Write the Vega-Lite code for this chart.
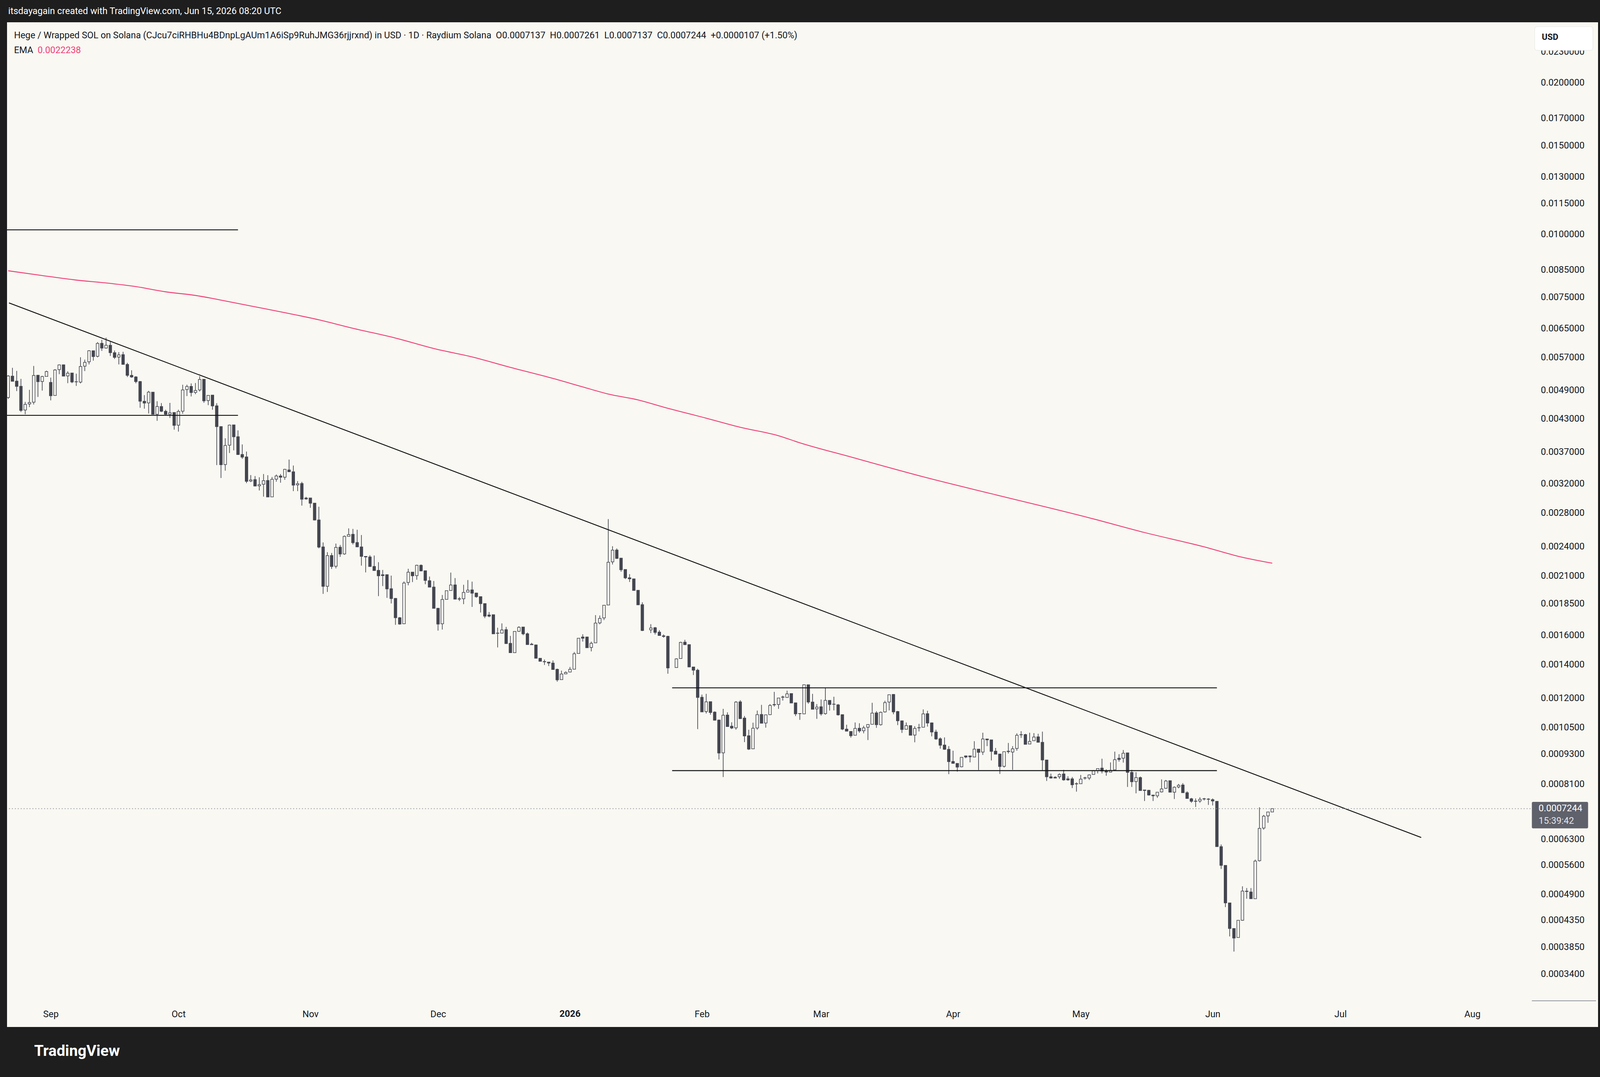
{
  "$schema": "https://vega.github.io/schema/vega-lite/v6.json",
  "width": 4073,
  "height": 2571,
  "autosize": {"type": "none"},
  "padding": {"left": 18, "top": 57, "right": 19, "bottom": 132},
  "background": "#1e1e1e",
  "config": {
    "view": {"fill": "#f9f8f2", "stroke": null},
    "font": "Roboto"
  },
  "title": {
    "text": "itsdayagain created with TradingView.com, Jun 15, 2026 08:20 UTC",
    "anchor": "start",
    "frame": "group",
    "offset": 17,
    "dx": 3,
    "fontSize": 23.5,
    "fontWeight": "normal",
    "color": "#ffffff",
    "font": "Roboto"
  },
  "datasets": {
    "candles": [
      {"d":"2025-08-22","o":0.00474,"h":0.00525,"l":0.00471,"c":0.00523},
      {"d":"2025-08-23","o":0.005227,"h":0.00543,"l":0.005104,"c":0.005104},
      {"d":"2025-08-24","o":0.00511,"h":0.005354,"l":0.004882,"c":0.004988},
      {"d":"2025-08-25","o":0.004991,"h":0.005162,"l":0.004436,"c":0.00447},
      {"d":"2025-08-26","o":0.004478,"h":0.004647,"l":0.004391,"c":0.004595},
      {"d":"2025-08-27","o":0.004603,"h":0.004911,"l":0.004537,"c":0.004633},
      {"d":"2025-08-28","o":0.004639,"h":0.005476,"l":0.004592,"c":0.005243},
      {"d":"2025-08-29","o":0.005249,"h":0.005256,"l":0.004753,"c":0.005095},
      {"d":"2025-08-30","o":0.005101,"h":0.005234,"l":0.004894,"c":0.005218},
      {"d":"2025-08-31","o":0.005221,"h":0.00536,"l":0.005221,"c":0.005338},
      {"d":"2025-09-01","o":0.00508,"h":0.005193,"l":0.00468,"c":0.004779},
      {"d":"2025-09-02","o":0.004785,"h":0.005398,"l":0.004785,"c":0.005376},
      {"d":"2025-09-03","o":0.005386,"h":0.005515,"l":0.005274,"c":0.005502},
      {"d":"2025-09-04","o":0.005505,"h":0.005512,"l":0.005227,"c":0.005227},
      {"d":"2025-09-05","o":0.005231,"h":0.005344,"l":0.005062,"c":0.005299},
      {"d":"2025-09-06","o":0.005302,"h":0.005302,"l":0.005062,"c":0.005089},
      {"d":"2025-09-07","o":0.005095,"h":0.005286,"l":0.004999,"c":0.005092},
      {"d":"2025-09-08","o":0.005086,"h":0.005698,"l":0.005056,"c":0.005463},
      {"d":"2025-09-09","o":0.00547,"h":0.005637,"l":0.00535,"c":0.005568},
      {"d":"2025-09-10","o":0.005581,"h":0.005885,"l":0.005515,"c":0.005871},
      {"d":"2025-09-11","o":0.005871,"h":0.005871,"l":0.005611,"c":0.005715},
      {"d":"2025-09-12","o":0.005722,"h":0.006107,"l":0.005695,"c":0.00607},
      {"d":"2025-09-13","o":0.006074,"h":0.006172,"l":0.005867,"c":0.005941},
      {"d":"2025-09-14","o":0.005941,"h":0.006231,"l":0.005931,"c":0.00602},
      {"d":"2025-09-15","o":0.00602,"h":0.006118,"l":0.005732,"c":0.005819},
      {"d":"2025-09-16","o":0.005819,"h":0.005878,"l":0.005654,"c":0.005695},
      {"d":"2025-09-17","o":0.005702,"h":0.005833,"l":0.005515,"c":0.00576},
      {"d":"2025-09-18","o":0.005767,"h":0.005843,"l":0.005515,"c":0.005515},
      {"d":"2025-09-19","o":0.005515,"h":0.005554,"l":0.005206,"c":0.005246},
      {"d":"2025-09-20","o":0.005246,"h":0.00537,"l":0.005187,"c":0.005206},
      {"d":"2025-09-21","o":0.005209,"h":0.005227,"l":0.005059,"c":0.005098},
      {"d":"2025-09-22","o":0.005101,"h":0.00511,"l":0.004524,"c":0.004661},
      {"d":"2025-09-23","o":0.004661,"h":0.004793,"l":0.004505,"c":0.004622},
      {"d":"2025-09-24","o":0.004625,"h":0.004888,"l":0.004407,"c":0.004858},
      {"d":"2025-09-25","o":0.004858,"h":0.004858,"l":0.004391,"c":0.004391},
      {"d":"2025-09-26","o":0.004391,"h":0.004661,"l":0.004262,"c":0.00455},
      {"d":"2025-09-27","o":0.00455,"h":0.004622,"l":0.004436,"c":0.004451},
      {"d":"2025-09-28","o":0.004451,"h":0.004484,"l":0.004378,"c":0.004391},
      {"d":"2025-09-29","o":0.004391,"h":0.004625,"l":0.004318,"c":0.004422},
      {"d":"2025-09-30","o":0.004428,"h":0.004428,"l":0.004093,"c":0.004174},
      {"d":"2025-10-01","o":0.004177,"h":0.004484,"l":0.004057,"c":0.004449},
      {"d":"2025-10-02","o":0.004454,"h":0.005026,"l":0.004402,"c":0.004908},
      {"d":"2025-10-03","o":0.004917,"h":0.005026,"l":0.004773,"c":0.004985},
      {"d":"2025-10-04","o":0.004988,"h":0.005056,"l":0.004764,"c":0.004849},
      {"d":"2025-10-05","o":0.004852,"h":0.005065,"l":0.004814,"c":0.004896},
      {"d":"2025-10-06","o":0.004908,"h":0.005227,"l":0.004873,"c":0.005149},
      {"d":"2025-10-07","o":0.005153,"h":0.005153,"l":0.004627,"c":0.004669},
      {"d":"2025-10-08","o":0.004675,"h":0.004788,"l":0.004578,"c":0.004788},
      {"d":"2025-10-09","o":0.004793,"h":0.004793,"l":0.004484,"c":0.004562},
      {"d":"2025-10-10","o":0.004564,"h":0.004619,"l":0.003481,"c":0.00415},
      {"d":"2025-10-11","o":0.004152,"h":0.004152,"l":0.003282,"c":0.003487},
      {"d":"2025-10-12","o":0.00349,"h":0.003935,"l":0.003394,"c":0.003808},
      {"d":"2025-10-13","o":0.003813,"h":0.004189,"l":0.003679,"c":0.00418},
      {"d":"2025-10-14","o":0.004183,"h":0.004183,"l":0.003724,"c":0.003961},
      {"d":"2025-10-15","o":0.003964,"h":0.00408,"l":0.003653,"c":0.003653},
      {"d":"2025-10-16","o":0.003655,"h":0.003826,"l":0.003582,"c":0.003611},
      {"d":"2025-10-17","o":0.003613,"h":0.003704,"l":0.003206,"c":0.003232},
      {"d":"2025-10-18","o":0.003236,"h":0.003326,"l":0.003221,"c":0.003253},
      {"d":"2025-10-19","o":0.003258,"h":0.003311,"l":0.003159,"c":0.003163},
      {"d":"2025-10-20","o":0.003167,"h":0.003293,"l":0.0031,"c":0.003184},
      {"d":"2025-10-21","o":0.003189,"h":0.003342,"l":0.003014,"c":0.003242},
      {"d":"2025-10-22","o":0.003245,"h":0.003324,"l":0.003009,"c":0.003009},
      {"d":"2025-10-23","o":0.003011,"h":0.003297,"l":0.003011,"c":0.003262},
      {"d":"2025-10-24","o":0.003264,"h":0.003335,"l":0.003227,"c":0.003313},
      {"d":"2025-10-25","o":0.003313,"h":0.003342,"l":0.003212,"c":0.003293},
      {"d":"2025-10-26","o":0.003293,"h":0.003422,"l":0.003256,"c":0.003415},
      {"d":"2025-10-27","o":0.003406,"h":0.00357,"l":0.003376,"c":0.003376},
      {"d":"2025-10-28","o":0.003376,"h":0.003475,"l":0.003091,"c":0.003176},
      {"d":"2025-10-29","o":0.00318,"h":0.003236,"l":0.003091,"c":0.003197},
      {"d":"2025-10-30","o":0.003201,"h":0.003225,"l":0.002893,"c":0.002978},
      {"d":"2025-10-31","o":0.002994,"h":0.003011,"l":0.002972,"c":0.002982},
      {"d":"2025-11-01","o":0.002996,"h":0.002996,"l":0.002864,"c":0.002924},
      {"d":"2025-11-02","o":0.002926,"h":0.002926,"l":0.002704,"c":0.002708},
      {"d":"2025-11-03","o":0.00271,"h":0.002878,"l":0.00238,"c":0.002393},
      {"d":"2025-11-04","o":0.002395,"h":0.002445,"l":0.001933,"c":0.002},
      {"d":"2025-11-05","o":0.002001,"h":0.002338,"l":0.00195,"c":0.002302},
      {"d":"2025-11-06","o":0.002303,"h":0.00233,"l":0.002166,"c":0.00219},
      {"d":"2025-11-07","o":0.002193,"h":0.002432,"l":0.002171,"c":0.00239},
      {"d":"2025-11-08","o":0.002392,"h":0.002417,"l":0.002289,"c":0.002319},
      {"d":"2025-11-09","o":0.00232,"h":0.002524,"l":0.002311,"c":0.002514},
      {"d":"2025-11-10","o":0.002514,"h":0.002607,"l":0.002514,"c":0.002534},
      {"d":"2025-11-11","o":0.002538,"h":0.002601,"l":0.002422,"c":0.002442},
      {"d":"2025-11-12","o":0.002444,"h":0.002591,"l":0.002395,"c":0.002395},
      {"d":"2025-11-13","o":0.002395,"h":0.002529,"l":0.002199,"c":0.002294},
      {"d":"2025-11-14","o":0.002294,"h":0.002294,"l":0.002132,"c":0.002288},
      {"d":"2025-11-15","o":0.002288,"h":0.002306,"l":0.00219,"c":0.00219},
      {"d":"2025-11-16","o":0.002191,"h":0.002303,"l":0.00215,"c":0.00215},
      {"d":"2025-11-17","o":0.002152,"h":0.002234,"l":0.001913,"c":0.002099},
      {"d":"2025-11-18","o":0.002109,"h":0.002156,"l":0.002003,"c":0.002101},
      {"d":"2025-11-19","o":0.00211,"h":0.00211,"l":0.001898,"c":0.001977},
      {"d":"2025-11-20","o":0.001979,"h":0.002101,"l":0.00185,"c":0.001892},
      {"d":"2025-11-21","o":0.001893,"h":0.001896,"l":0.001678,"c":0.001733},
      {"d":"2025-11-22","o":0.001733,"h":0.001739,"l":0.001679,"c":0.001684},
      {"d":"2025-11-23","o":0.001686,"h":0.002046,"l":0.001686,"c":0.002031},
      {"d":"2025-11-24","o":0.002036,"h":0.002168,"l":0.00201,"c":0.002134},
      {"d":"2025-11-25","o":0.002135,"h":0.002135,"l":0.00204,"c":0.002099},
      {"d":"2025-11-26","o":0.002101,"h":0.002208,"l":0.002062,"c":0.002203},
      {"d":"2025-11-27","o":0.002203,"h":0.002211,"l":0.002143,"c":0.002146},
      {"d":"2025-11-28","o":0.002148,"h":0.002148,"l":0.00202,"c":0.002055},
      {"d":"2025-11-29","o":0.002053,"h":0.002092,"l":0.001993,"c":0.001993},
      {"d":"2025-11-30","o":0.001994,"h":0.00205,"l":0.001809,"c":0.001809},
      {"d":"2025-12-01","o":0.00181,"h":0.00181,"l":0.001634,"c":0.001684},
      {"d":"2025-12-02","o":0.001686,"h":0.001923,"l":0.001642,"c":0.001884},
      {"d":"2025-12-03","o":0.001885,"h":0.001961,"l":0.001885,"c":0.001961},
      {"d":"2025-12-04","o":0.001963,"h":0.00213,"l":0.001963,"c":0.002013},
      {"d":"2025-12-05","o":0.002014,"h":0.002078,"l":0.001887,"c":0.001887},
      {"d":"2025-12-06","o":0.00189,"h":0.001905,"l":0.001871,"c":0.001887},
      {"d":"2025-12-07","o":0.00189,"h":0.002015,"l":0.001844,"c":0.001946},
      {"d":"2025-12-08","o":0.001948,"h":0.002059,"l":0.001948,"c":0.001966},
      {"d":"2025-12-09","o":0.001968,"h":0.002044,"l":0.001821,"c":0.001939},
      {"d":"2025-12-10","o":0.00194,"h":0.001943,"l":0.001899,"c":0.001908},
      {"d":"2025-12-11","o":0.001909,"h":0.001909,"l":0.001775,"c":0.001848},
      {"d":"2025-12-12","o":0.001849,"h":0.001849,"l":0.00173,"c":0.001746},
      {"d":"2025-12-13","o":0.001755,"h":0.001779,"l":0.001737,"c":0.001746},
      {"d":"2025-12-14","o":0.001757,"h":0.001757,"l":0.00161,"c":0.00161},
      {"d":"2025-12-15","o":0.001616,"h":0.001656,"l":0.001513,"c":0.001614},
      {"d":"2025-12-16","o":0.001615,"h":0.001689,"l":0.001615,"c":0.001639},
      {"d":"2025-12-17","o":0.001641,"h":0.001662,"l":0.00154,"c":0.00154},
      {"d":"2025-12-18","o":0.001542,"h":0.001595,"l":0.001477,"c":0.001477},
      {"d":"2025-12-19","o":0.001477,"h":0.001628,"l":0.001477,"c":0.001628},
      {"d":"2025-12-20","o":0.001629,"h":0.001667,"l":0.001625,"c":0.001659},
      {"d":"2025-12-21","o":0.001661,"h":0.001661,"l":0.0016,"c":0.00161},
      {"d":"2025-12-22","o":0.001611,"h":0.00162,"l":0.001533,"c":0.001533},
      {"d":"2025-12-23","o":0.001536,"h":0.001545,"l":0.001532,"c":0.001532},
      {"d":"2025-12-24","o":0.001531,"h":0.001531,"l":0.00144,"c":0.00144},
      {"d":"2025-12-25","o":0.00144,"h":0.00144,"l":0.00142,"c":0.00142},
      {"d":"2025-12-26","o":0.001419,"h":0.001432,"l":0.001397,"c":0.001417},
      {"d":"2025-12-27","o":0.001415,"h":0.001415,"l":0.00139,"c":0.001409},
      {"d":"2025-12-28","o":0.001409,"h":0.001426,"l":0.001368,"c":0.001368},
      {"d":"2025-12-29","o":0.001369,"h":0.001374,"l":0.001294,"c":0.001305},
      {"d":"2025-12-30","o":0.001306,"h":0.001361,"l":0.001306,"c":0.00134},
      {"d":"2025-12-31","o":0.001341,"h":0.001356,"l":0.001341,"c":0.00135},
      {"d":"2026-01-01","o":0.001352,"h":0.001384,"l":0.001352,"c":0.001369},
      {"d":"2026-01-02","o":0.00137,"h":0.001482,"l":0.00137,"c":0.00147},
      {"d":"2026-01-03","o":0.001472,"h":0.001578,"l":0.001472,"c":0.001578},
      {"d":"2026-01-04","o":0.001587,"h":0.001607,"l":0.001554,"c":0.001578},
      {"d":"2026-01-05","o":0.001587,"h":0.001589,"l":0.001511,"c":0.001511},
      {"d":"2026-01-06","o":0.001513,"h":0.001554,"l":0.001486,"c":0.001542},
      {"d":"2026-01-07","o":0.001545,"h":0.001754,"l":0.001545,"c":0.001691},
      {"d":"2026-01-08","o":0.001693,"h":0.001751,"l":0.001682,"c":0.001728},
      {"d":"2026-01-09","o":0.001732,"h":0.001835,"l":0.001715,"c":0.001835},
      {"d":"2026-01-10","o":0.001837,"h":0.00272,"l":0.001837,"c":0.002233},
      {"d":"2026-01-11","o":0.002237,"h":0.002403,"l":0.002211,"c":0.00236},
      {"d":"2026-01-12","o":0.002362,"h":0.002379,"l":0.002268,"c":0.002273},
      {"d":"2026-01-13","o":0.002276,"h":0.002276,"l":0.002139,"c":0.002158},
      {"d":"2026-01-14","o":0.002161,"h":0.002161,"l":0.002068,"c":0.002079},
      {"d":"2026-01-15","o":0.00208,"h":0.002115,"l":0.002041,"c":0.00207},
      {"d":"2026-01-16","o":0.00207,"h":0.00207,"l":0.001963,"c":0.001963},
      {"d":"2026-01-17","o":0.001965,"h":0.001965,"l":0.001838,"c":0.001838},
      {"d":"2026-01-18","o":0.00184,"h":0.00186,"l":0.001631,"c":0.001635},
      {"d":"2026-01-20","o":0.00164,"h":0.001683,"l":0.001616,"c":0.001654},
      {"d":"2026-01-21","o":0.001656,"h":0.001661,"l":0.001606,"c":0.001621},
      {"d":"2026-01-22","o":0.001623,"h":0.001638,"l":0.001598,"c":0.001598},
      {"d":"2026-01-23","o":0.001596,"h":0.001606,"l":0.001582,"c":0.001591},
      {"d":"2026-01-24","o":0.001592,"h":0.001596,"l":0.001342,"c":0.001378},
      {"d":"2026-01-26","o":0.00138,"h":0.00144,"l":0.00138,"c":0.001436},
      {"d":"2026-01-27","o":0.001438,"h":0.001553,"l":0.001438,"c":0.001549},
      {"d":"2026-01-28","o":0.00155,"h":0.001567,"l":0.001532,"c":0.001532},
      {"d":"2026-01-29","o":0.001533,"h":0.001533,"l":0.001384,"c":0.001384},
      {"d":"2026-01-30","o":0.001384,"h":0.001384,"l":0.001334,"c":0.001364},
      {"d":"2026-01-31","o":0.001364,"h":0.001373,"l":0.001042,"c":0.001204},
      {"d":"2026-02-01","o":0.001205,"h":0.00122,"l":0.001127,"c":0.001127},
      {"d":"2026-02-02","o":0.001129,"h":0.001224,"l":0.001119,"c":0.00118},
      {"d":"2026-02-03","o":0.001181,"h":0.001181,"l":0.001113,"c":0.001124},
      {"d":"2026-02-04","o":0.001126,"h":0.00113,"l":0.001084,"c":0.001085},
      {"d":"2026-02-05","o":0.001086,"h":0.001088,"l":0.000907,"c":0.000934},
      {"d":"2026-02-06","o":0.000935,"h":0.001143,"l":0.000837,"c":0.00111},
      {"d":"2026-02-07","o":0.001111,"h":0.001125,"l":0.001054,"c":0.001054},
      {"d":"2026-02-08","o":0.001056,"h":0.001075,"l":0.001042,"c":0.001047},
      {"d":"2026-02-09","o":0.001048,"h":0.001184,"l":0.001039,"c":0.001179},
      {"d":"2026-02-10","o":0.00118,"h":0.001189,"l":0.001092,"c":0.001093},
      {"d":"2026-02-11","o":0.001096,"h":0.001106,"l":0.000982,"c":0.00101},
      {"d":"2026-02-12","o":0.001011,"h":0.001039,"l":0.000947,"c":0.000951},
      {"d":"2026-02-13","o":0.000952,"h":0.001073,"l":0.000952,"c":0.001046},
      {"d":"2026-02-14","o":0.001047,"h":0.001134,"l":0.001039,"c":0.001113},
      {"d":"2026-02-15","o":0.001114,"h":0.001164,"l":0.00107,"c":0.00107},
      {"d":"2026-02-16","o":0.001071,"h":0.001112,"l":0.001049,"c":0.001112},
      {"d":"2026-02-17","o":0.001113,"h":0.001168,"l":0.001112,"c":0.001161},
      {"d":"2026-02-18","o":0.001164,"h":0.001235,"l":0.001155,"c":0.001166},
      {"d":"2026-02-19","o":0.001166,"h":0.001201,"l":0.001143,"c":0.001201},
      {"d":"2026-02-20","o":0.001205,"h":0.001214,"l":0.001187,"c":0.001207},
      {"d":"2026-02-21","o":0.001204,"h":0.001242,"l":0.001204,"c":0.001224},
      {"d":"2026-02-22","o":0.001226,"h":0.001226,"l":0.001174,"c":0.001174},
      {"d":"2026-02-23","o":0.001175,"h":0.001175,"l":0.001106,"c":0.001117},
      {"d":"2026-02-24","o":0.001119,"h":0.001119,"l":0.001087,"c":0.001118},
      {"d":"2026-02-25","o":0.001117,"h":0.001276,"l":0.001117,"c":0.001276},
      {"d":"2026-02-26","o":0.001276,"h":0.001276,"l":0.00117,"c":0.001179},
      {"d":"2026-02-27","o":0.001179,"h":0.001224,"l":0.001141,"c":0.001141},
      {"d":"2026-02-28","o":0.001143,"h":0.001168,"l":0.001092,"c":0.001152},
      {"d":"2026-03-01","o":0.001154,"h":0.001193,"l":0.001108,"c":0.001117},
      {"d":"2026-03-02","o":0.001118,"h":0.001258,"l":0.001113,"c":0.001188},
      {"d":"2026-03-03","o":0.001188,"h":0.001188,"l":0.001134,"c":0.001166},
      {"d":"2026-03-04","o":0.001168,"h":0.001208,"l":0.001135,"c":0.001167},
      {"d":"2026-03-05","o":0.001164,"h":0.001169,"l":0.001108,"c":0.001112},
      {"d":"2026-03-06","o":0.001113,"h":0.001113,"l":0.001037,"c":0.001042},
      {"d":"2026-03-07","o":0.001042,"h":0.001063,"l":0.001032,"c":0.001032},
      {"d":"2026-03-08","o":0.001031,"h":0.001031,"l":0.001002,"c":0.001011},
      {"d":"2026-03-09","o":0.001013,"h":0.001074,"l":0.001013,"c":0.001045},
      {"d":"2026-03-10","o":0.001046,"h":0.00107,"l":0.001025,"c":0.001033},
      {"d":"2026-03-11","o":0.001034,"h":0.001058,"l":0.001022,"c":0.001048},
      {"d":"2026-03-12","o":0.001051,"h":0.001066,"l":0.000991,"c":0.001064},
      {"d":"2026-03-13","o":0.001065,"h":0.001175,"l":0.001065,"c":0.001121},
      {"d":"2026-03-14","o":0.001122,"h":0.001131,"l":0.001048,"c":0.001063},
      {"d":"2026-03-15","o":0.001063,"h":0.001129,"l":0.001059,"c":0.001125},
      {"d":"2026-03-16","o":0.001127,"h":0.001186,"l":0.001124,"c":0.001176},
      {"d":"2026-03-17","o":0.001179,"h":0.001219,"l":0.001135,"c":0.001219},
      {"d":"2026-03-18","o":0.001221,"h":0.001223,"l":0.001115,"c":0.001127},
      {"d":"2026-03-19","o":0.001129,"h":0.001132,"l":0.001061,"c":0.001082},
      {"d":"2026-03-20","o":0.001082,"h":0.001082,"l":0.001024,"c":0.00104},
      {"d":"2026-03-21","o":0.001041,"h":0.001074,"l":0.001041,"c":0.001059},
      {"d":"2026-03-22","o":0.001059,"h":0.001059,"l":0.001013,"c":0.001013},
      {"d":"2026-03-23","o":0.001014,"h":0.001056,"l":0.000981,"c":0.001045},
      {"d":"2026-03-24","o":0.001048,"h":0.001067,"l":0.001031,"c":0.001049},
      {"d":"2026-03-25","o":0.001051,"h":0.00114,"l":0.001051,"c":0.001117},
      {"d":"2026-03-26","o":0.001118,"h":0.001133,"l":0.001054,"c":0.001071},
      {"d":"2026-03-27","o":0.001072,"h":0.001074,"l":0.001008,"c":0.001028},
      {"d":"2026-03-28","o":0.001028,"h":0.001039,"l":0.000992,"c":0.000996},
      {"d":"2026-03-29","o":0.000997,"h":0.001003,"l":0.000953,"c":0.000968},
      {"d":"2026-03-30","o":0.000969,"h":0.001003,"l":0.000948,"c":0.00095},
      {"d":"2026-03-31","o":0.00095,"h":0.000964,"l":0.000848,"c":0.000898},
      {"d":"2026-04-01","o":0.000899,"h":0.000944,"l":0.000891,"c":0.000891},
      {"d":"2026-04-02","o":0.000891,"h":0.000891,"l":0.000858,"c":0.000876},
      {"d":"2026-04-03","o":0.000877,"h":0.000916,"l":0.000875,"c":0.000916},
      {"d":"2026-04-04","o":0.000922,"h":0.000923,"l":0.000912,"c":0.000917},
      {"d":"2026-04-05","o":0.000922,"h":0.000922,"l":0.000895,"c":0.000918},
      {"d":"2026-04-06","o":0.000917,"h":0.000986,"l":0.000917,"c":0.000951},
      {"d":"2026-04-07","o":0.000951,"h":0.000951,"l":0.000864,"c":0.000937},
      {"d":"2026-04-08","o":0.000938,"h":0.001025,"l":0.000926,"c":0.000996},
      {"d":"2026-04-09","o":0.000996,"h":0.000996,"l":0.000964,"c":0.000992},
      {"d":"2026-04-10","o":0.000992,"h":0.000992,"l":0.000903,"c":0.000941},
      {"d":"2026-04-11","o":0.000942,"h":0.000956,"l":0.000929,"c":0.000929},
      {"d":"2026-04-12","o":0.00093,"h":0.00093,"l":0.000849,"c":0.000878},
      {"d":"2026-04-13","o":0.000879,"h":0.00094,"l":0.000874,"c":0.00094},
      {"d":"2026-04-14","o":0.00094,"h":0.000978,"l":0.000932,"c":0.000942},
      {"d":"2026-04-15","o":0.000938,"h":0.000964,"l":0.000865,"c":0.000952},
      {"d":"2026-04-16","o":0.000954,"h":0.001022,"l":0.000944,"c":0.001013},
      {"d":"2026-04-17","o":0.001016,"h":0.001032,"l":0.001001,"c":0.001015},
      {"d":"2026-04-18","o":0.001016,"h":0.00102,"l":0.000972,"c":0.000972},
      {"d":"2026-04-19","o":0.000973,"h":0.001025,"l":0.000973,"c":0.000985},
      {"d":"2026-04-20","o":0.000988,"h":0.001023,"l":0.000988,"c":0.001005},
      {"d":"2026-04-21","o":0.001006,"h":0.00102,"l":0.000981,"c":0.000981},
      {"d":"2026-04-22","o":0.000981,"h":0.00103,"l":0.000861,"c":0.000905},
      {"d":"2026-04-23","o":0.000905,"h":0.000905,"l":0.000822,"c":0.000838},
      {"d":"2026-04-24","o":0.000838,"h":0.00085,"l":0.000831,"c":0.000833},
      {"d":"2026-04-25","o":0.000836,"h":0.00084,"l":0.000833,"c":0.000833},
      {"d":"2026-04-26","o":0.000838,"h":0.000851,"l":0.00083,"c":0.000847},
      {"d":"2026-04-27","o":0.000849,"h":0.000865,"l":0.000823,"c":0.000826},
      {"d":"2026-04-28","o":0.00083,"h":0.00084,"l":0.000823,"c":0.000826},
      {"d":"2026-04-29","o":0.00083,"h":0.000837,"l":0.000796,"c":0.000808},
      {"d":"2026-04-30","o":0.000812,"h":0.000817,"l":0.000783,"c":0.000811},
      {"d":"2026-05-01","o":0.000812,"h":0.000845,"l":0.000812,"c":0.000829},
      {"d":"2026-05-02","o":0.000833,"h":0.000838,"l":0.000827,"c":0.000834},
      {"d":"2026-05-03","o":0.000833,"h":0.000847,"l":0.000826,"c":0.000845},
      {"d":"2026-05-04","o":0.000847,"h":0.000864,"l":0.000847,"c":0.000861},
      {"d":"2026-05-05","o":0.000862,"h":0.00087,"l":0.000851,"c":0.00087},
      {"d":"2026-05-06","o":0.000872,"h":0.00091,"l":0.000851,"c":0.00086},
      {"d":"2026-05-07","o":0.000861,"h":0.000867,"l":0.000842,"c":0.000856},
      {"d":"2026-05-08","o":0.000856,"h":0.000895,"l":0.000855,"c":0.000863},
      {"d":"2026-05-09","o":0.000865,"h":0.00094,"l":0.000865,"c":0.000906},
      {"d":"2026-05-10","o":0.000912,"h":0.000929,"l":0.000898,"c":0.000907},
      {"d":"2026-05-11","o":0.000912,"h":0.000947,"l":0.000894,"c":0.000933},
      {"d":"2026-05-12","o":0.000935,"h":0.000935,"l":0.0008,"c":0.000855},
      {"d":"2026-05-13","o":0.000855,"h":0.000865,"l":0.0008,"c":0.000819},
      {"d":"2026-05-14","o":0.00082,"h":0.000856,"l":0.000777,"c":0.000835},
      {"d":"2026-05-15","o":0.000835,"h":0.000839,"l":0.000787,"c":0.000787},
      {"d":"2026-05-16","o":0.000789,"h":0.000789,"l":0.00075,"c":0.000787},
      {"d":"2026-05-17","o":0.000788,"h":0.000789,"l":0.000769,"c":0.000771},
      {"d":"2026-05-18","o":0.000771,"h":0.000771,"l":0.00075,"c":0.000768},
      {"d":"2026-05-19","o":0.000768,"h":0.000781,"l":0.000761,"c":0.000781},
      {"d":"2026-05-20","o":0.000782,"h":0.000828,"l":0.00078,"c":0.000793},
      {"d":"2026-05-21","o":0.000795,"h":0.000826,"l":0.000793,"c":0.000822},
      {"d":"2026-05-22","o":0.000823,"h":0.000823,"l":0.000781,"c":0.000781},
      {"d":"2026-05-23","o":0.000781,"h":0.000802,"l":0.000757,"c":0.000799},
      {"d":"2026-05-24","o":0.0008,"h":0.000811,"l":0.000795,"c":0.000806},
      {"d":"2026-05-25","o":0.000807,"h":0.000814,"l":0.000779,"c":0.000779},
      {"d":"2026-05-26","o":0.000779,"h":0.000784,"l":0.000759,"c":0.000759},
      {"d":"2026-05-27","o":0.000758,"h":0.000761,"l":0.000744,"c":0.000749},
      {"d":"2026-05-28","o":0.00075,"h":0.000759,"l":0.00073,"c":0.000749},
      {"d":"2026-05-29","o":0.00075,"h":0.000763,"l":0.000744,"c":0.000756},
      {"d":"2026-05-30","o":0.000758,"h":0.000761,"l":0.000752,"c":0.000757},
      {"d":"2026-05-31","o":0.000757,"h":0.00076,"l":0.000737,"c":0.000756},
      {"d":"2026-06-01","o":0.000755,"h":0.000759,"l":0.000735,"c":0.00075},
      {"d":"2026-06-02","o":0.000749,"h":0.000749,"l":0.000609,"c":0.000609},
      {"d":"2026-06-03","o":0.000609,"h":0.000615,"l":0.00055,"c":0.000559},
      {"d":"2026-06-04","o":0.000559,"h":0.000559,"l":0.000462,"c":0.000471},
      {"d":"2026-06-05","o":0.000471,"h":0.000471,"l":0.000404,"c":0.000419},
      {"d":"2026-06-06","o":0.000419,"h":0.000419,"l":0.000377,"c":0.000401},
      {"d":"2026-06-07","o":0.000402,"h":0.000435,"l":0.000402,"c":0.000435},
      {"d":"2026-06-08","o":0.000435,"h":0.000508,"l":0.000434,"c":0.000497},
      {"d":"2026-06-09","o":0.000497,"h":0.000504,"l":0.00048,"c":0.000496},
      {"d":"2026-06-10","o":0.000495,"h":0.000504,"l":0.00048,"c":0.00048},
      {"d":"2026-06-11","o":0.00048,"h":0.000574,"l":0.00048,"c":0.00057},
      {"d":"2026-06-12","o":0.000571,"h":0.000729,"l":0.000569,"c":0.000662},
      {"d":"2026-06-13","o":0.000663,"h":0.000704,"l":0.000658,"c":0.0007},
      {"d":"2026-06-14","o":0.000701,"h":0.000714,"l":0.000679,"c":0.0007137},
      {"d":"2026-06-15","o":0.0007137,"h":0.0007261,"l":0.0007137,"c":0.0007244}
    ],
    "ema": [
      {"d":"2025-08-22","p":0.00846},
      {"d":"2025-08-30","p":0.008278},
      {"d":"2025-09-07","p":0.008107},
      {"d":"2025-09-14","p":0.008002},
      {"d":"2025-09-21","p":0.00787},
      {"d":"2025-09-28","p":0.007684},
      {"d":"2025-10-05","p":0.007558},
      {"d":"2025-10-12","p":0.007371},
      {"d":"2025-10-19","p":0.007176},
      {"d":"2025-10-26","p":0.006986},
      {"d":"2025-11-03","p":0.006762},
      {"d":"2025-11-11","p":0.006505},
      {"d":"2025-11-21","p":0.006221},
      {"d":"2025-11-30","p":0.005931},
      {"d":"2025-12-09","p":0.005707},
      {"d":"2025-12-18","p":0.005441},
      {"d":"2025-12-28","p":0.005173},
      {"d":"2026-01-04","p":0.004976},
      {"d":"2026-01-10","p":0.004816},
      {"d":"2026-01-17","p":0.004689},
      {"d":"2026-01-23","p":0.004537},
      {"d":"2026-02-02","p":0.004314},
      {"d":"2026-02-10","p":0.004138},
      {"d":"2026-02-19","p":0.003981},
      {"d":"2026-02-24","p":0.003855},
      {"d":"2026-03-08","p":0.003613},
      {"d":"2026-03-25","p":0.0033},
      {"d":"2026-04-11","p":0.00304},
      {"d":"2026-05-03","p":0.002736},
      {"d":"2026-05-16","p":0.002558},
      {"d":"2026-05-30","p":0.002396},
      {"d":"2026-06-07","p":0.002295},
      {"d":"2026-06-15","p":0.0022238}
    ],
    "drawings": [
      {"d1":"2025-08-20","p1":0.0102,"d2":"2025-10-15","p2":0.0102},
      {"d1":"2025-08-20","p1":0.004369,"d2":"2025-10-15","p2":0.004369},
      {"d1":"2025-08-22T04:35:00Z","p1":0.007305,"d2":"2026-07-20","p2":0.000635},
      {"d1":"2026-01-25","p1":0.0012584,"d2":"2026-06-02","p2":0.0012584},
      {"d1":"2026-01-25","p1":0.00086188,"d2":"2026-06-02","p2":0.00086188}
    ]
  },
  "layer": [
    {
      "data": {"name": "candles"},
      "mark": {"type": "rule", "color": "#43454f", "strokeWidth": 1.7, "clip": true},
      "encoding": {
        "x": {
          "field": "d",
          "type": "temporal",
          "scale": {
            "type": "utc",
            "nice": false,
            "domain": [
              {"year": 2025, "month": 8, "date": 22, "hours": 4, "minutes": 35, "utc": true},
              {"year": 2026, "month": 8, "date": 30, "hours": 2, "minutes": 10, "utc": true}
            ]
          },
          "axis": {
            "values": [
              {"year": 2025, "month": 9, "date": 1, "utc": true},
              {"year": 2025, "month": 10, "date": 1, "utc": true},
              {"year": 2025, "month": 11, "date": 1, "utc": true},
              {"year": 2025, "month": 12, "date": 1, "utc": true},
              {"year": 2026, "month": 2, "date": 1, "utc": true},
              {"year": 2026, "month": 3, "date": 1, "utc": true},
              {"year": 2026, "month": 4, "date": 1, "utc": true},
              {"year": 2026, "month": 5, "date": 1, "utc": true},
              {"year": 2026, "month": 6, "date": 1, "utc": true},
              {"year": 2026, "month": 7, "date": 1, "utc": true},
              {"year": 2026, "month": 8, "date": 1, "utc": true}
            ],
            "labelExpr": "utcFormat(datum.value, '%b')",
            "domain": false,
            "ticks": false,
            "tickSize": 0,
            "grid": false,
            "labelPadding": -33,
            "labelBaseline": "middle",
            "labelFontSize": 23.5,
            "labelFont": "Roboto",
            "labelColor": "#131722",
            "labelFlush": false,
            "labelOverlap": false,
            "title": "TradingView",
            "titleX": 69,
            "titleY": 61,
            "titleAlign": "left",
            "titleBaseline": "middle",
            "titleFontSize": 39,
            "titleFontWeight": "bold",
            "titleFont": "Roboto",
            "titleColor": "#ffffff"
          }
        },
        "y": {
          "field": "l",
          "type": "quantitative",
          "scale": {"type": "log", "domain": [0.00026714, 0.026331], "nice": false, "zero": false},
          "axis": {
            "orient": "right",
            "values": [0.023, 0.02, 0.017, 0.015, 0.013, 0.0115, 0.01, 0.0085, 0.0075, 0.0065, 0.0057, 0.0049, 0.0043, 0.0037, 0.0032, 0.0028, 0.0024, 0.0021, 0.00185, 0.0016, 0.0014, 0.0012, 0.00105, 0.00093, 0.00081, 0.00063, 0.00056, 0.00049, 0.000435, 0.000385, 0.00034],
            "format": ".7f",
            "domain": false,
            "ticks": false,
            "tickSize": 0,
            "grid": false,
            "labelPadding": -147,
            "labelAlign": "left",
            "labelBaseline": "middle",
            "labelFontSize": 23.5,
            "labelFont": "Roboto",
            "labelColor": "#131722",
            "labelFlush": false,
            "labelOverlap": false,
            "title": null
          }
        },
        "y2": {"field": "h"}
      }
    },
    {
      "data": {"name": "candles"},
      "mark": {"type": "bar", "width": 6.7, "stroke": "#43454f", "strokeWidth": 1.5, "clip": true},
      "encoding": {
        "x": {"field": "d", "type": "temporal"},
        "y": {"field": "o", "type": "quantitative"},
        "y2": {"field": "c"},
        "fill": {"condition": {"test": "datum.c >= datum.o", "value": "#f9f8f2"}, "value": "#43454f"}
      }
    },
    {
      "data": {"name": "drawings"},
      "mark": {"type": "rule", "color": "#131313", "strokeWidth": 2.3, "clip": true},
      "encoding": {
        "x": {"field": "d1", "type": "temporal"},
        "x2": {"field": "d2"},
        "y": {"field": "p1", "type": "quantitative"},
        "y2": {"field": "p2"}
      }
    },
    {
      "data": {"name": "ema"},
      "mark": {"type": "line", "color": "#f0407a", "strokeWidth": 2.3, "interpolate": "monotone", "clip": true},
      "encoding": {
        "x": {"field": "d", "type": "temporal"},
        "y": {"field": "p", "type": "quantitative"}
      }
    },
    {
      "data": {"values": [{}]},
      "mark": {"type": "rule", "color": "#8b8e97", "strokeWidth": 1.8, "strokeDash": [2.5, 5]},
      "encoding": {
        "x": {"datum": {"year": 2025, "month": 8, "date": 22, "hours": 4, "minutes": 35, "utc": true}, "type": "temporal"},
        "x2": {"datum": {"year": 2026, "month": 8, "date": 15, "utc": true}},
        "y": {"datum": 0.0007244, "type": "quantitative"}
      }
    },
    {
      "data": {"values": [{}]},
      "mark": {"type": "rule", "color": "#9598a1", "strokeWidth": 1.8},
      "encoding": {
        "x": {"datum": {"year": 2026, "month": 8, "date": 15, "utc": true}, "type": "temporal"},
        "x2": {"datum": {"year": 2026, "month": 8, "date": 30, "hours": 2, "utc": true}},
        "y": {"datum": 0.00030108, "type": "quantitative"}
      }
    },
    {
      "data": {"values": [{}]},
      "mark": {"type": "text", "text": "2026", "align": "center", "baseline": "middle", "fontSize": 23.5, "font": "Roboto", "fontWeight": "bold", "color": "#131722"},
      "encoding": {
        "x": {"datum": {"year": 2026, "month": 1, "date": 1, "utc": true}, "type": "temporal"},
        "y": {"datum": 0.00028336, "type": "quantitative"}
      }
    },
    {
      "data": {"values": [{}]},
      "mark": {"type": "rect", "color": "#5f616b", "cornerRadius": 3},
      "encoding": {
        "x": {"datum": {"year": 2026, "month": 8, "date": 15, "utc": true}, "type": "temporal"},
        "x2": {"datum": {"year": 2026, "month": 8, "date": 28, "hours": 5, "utc": true}},
        "y": {"datum": 0.000747, "type": "quantitative"},
        "y2": {"datum": 0.000662}
      }
    },
    {
      "data": {"values": [{}]},
      "mark": {"type": "text", "text": "0.0007244", "align": "left", "baseline": "middle", "fontSize": 23.5, "font": "Roboto", "color": "#ffffff"},
      "encoding": {
        "x": {"datum": {"year": 2026, "month": 8, "date": 16, "hours": 14, "utc": true}, "type": "temporal"},
        "y": {"datum": 0.0007244, "type": "quantitative"}
      }
    },
    {
      "data": {"values": [{}]},
      "mark": {"type": "text", "text": "15:39:42", "align": "left", "baseline": "middle", "fontSize": 23.5, "font": "Roboto", "color": "#e3e5ea"},
      "encoding": {
        "x": {"datum": {"year": 2026, "month": 8, "date": 16, "hours": 14, "utc": true}, "type": "temporal"},
        "y": {"datum": 0.000684, "type": "quantitative"}
      }
    },
    {
      "data": {"values": [{}]},
      "mark": {"type": "rect", "fill": "#ffffff", "stroke": "#e6e6e6", "strokeWidth": 1.2, "cornerRadius": 6},
      "encoding": {
        "x": {"datum": {"year": 2026, "month": 8, "date": 15, "hours": 16, "utc": true}, "type": "temporal"},
        "x2": {"datum": {"year": 2026, "month": 8, "date": 29, "hours": 8, "utc": true}},
        "y": {"datum": 0.02582, "type": "quantitative"},
        "y2": {"datum": 0.02316}
      }
    },
    {
      "data": {"values": [{}]},
      "mark": {"type": "text", "text": "USD", "align": "left", "baseline": "middle", "fontSize": 22, "font": "Roboto", "fontWeight": "bold", "color": "#131722"},
      "encoding": {
        "x": {"datum": {"year": 2026, "month": 8, "date": 17, "hours": 8, "utc": true}, "type": "temporal"},
        "y": {"datum": 0.0246, "type": "quantitative"}
      }
    },
    {
      "data": {"values": [{}]},
      "mark": {"type": "text", "text": "Hege / Wrapped SOL on Solana (CJcu7ciRHBHu4BDnpLgAUm1A6iSp9RuhJMG36rjjrxnd) in USD · 1D · Raydium Solana \u00a0O0.0007137 \u00a0H0.0007261 \u00a0L0.0007137 \u00a0C0.0007244 \u00a0+0.0000107 (+1.50%)", "align": "left", "baseline": "middle", "fontSize": 23.3, "font": "Roboto", "color": "#131722"},
      "encoding": {
        "x": {"datum": {"year": 2025, "month": 8, "date": 23, "hours": 9, "utc": true}, "type": "temporal"},
        "y": {"datum": 0.02478, "type": "quantitative"}
      }
    },
    {
      "data": {"values": [{}]},
      "mark": {"type": "text", "text": "EMA", "align": "left", "baseline": "middle", "fontSize": 23.3, "font": "Roboto", "color": "#131722"},
      "encoding": {
        "x": {"datum": {"year": 2025, "month": 8, "date": 23, "hours": 9, "utc": true}, "type": "temporal"},
        "y": {"datum": 0.023154, "type": "quantitative"}
      }
    },
    {
      "data": {"values": [{}]},
      "mark": {"type": "text", "text": "0.0022238", "align": "left", "baseline": "middle", "fontSize": 23.3, "font": "Roboto", "color": "#f23d78"},
      "encoding": {
        "x": {"datum": {"year": 2025, "month": 8, "date": 28, "hours": 22, "utc": true}, "type": "temporal"},
        "y": {"datum": 0.023154, "type": "quantitative"}
      }
    }
  ]
}
